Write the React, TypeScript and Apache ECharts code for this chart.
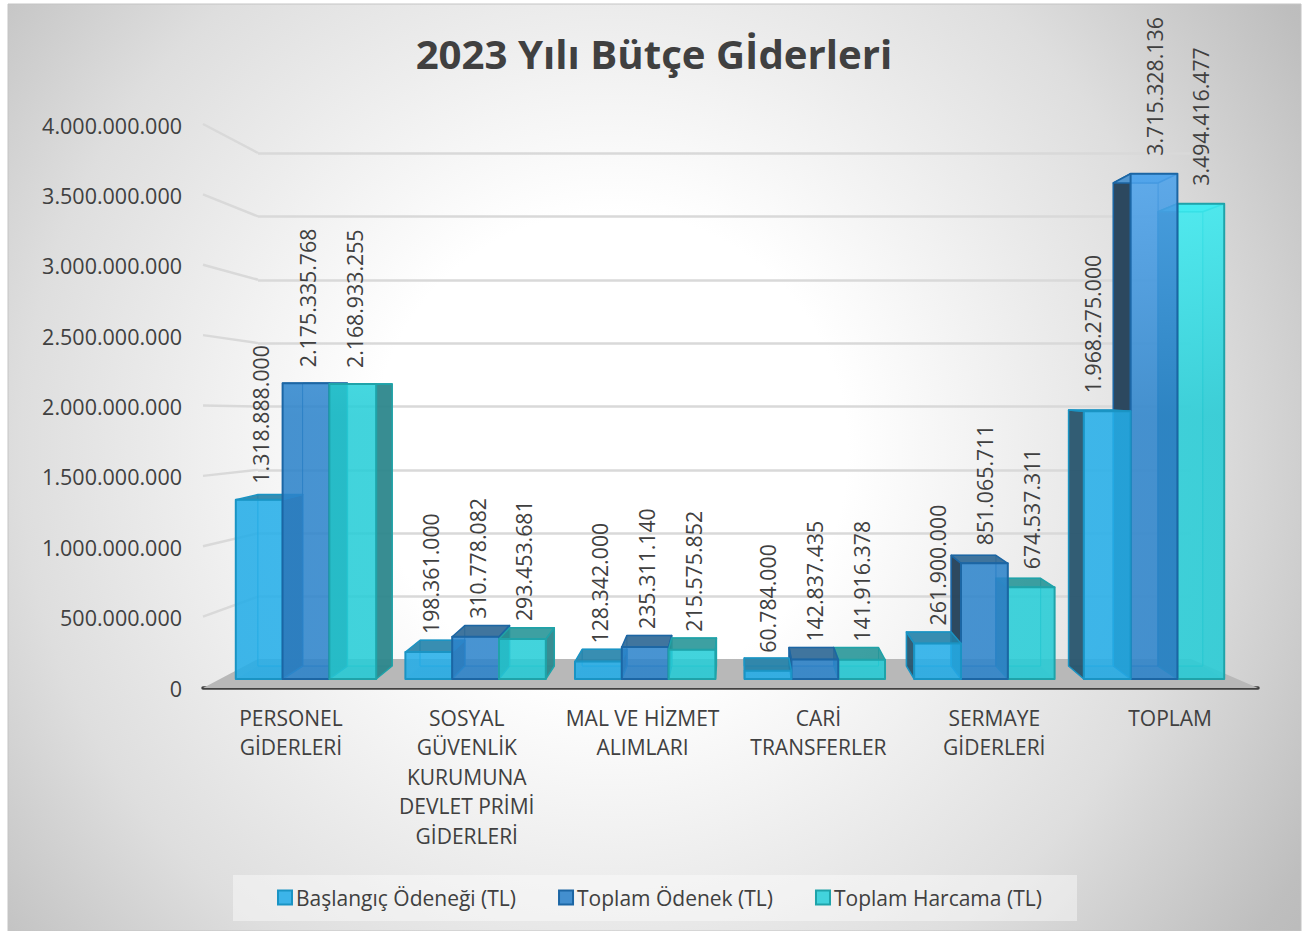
import React, { useEffect, useRef } from "react";
import * as echarts from "echarts";

const categories = [
  "PERSONEL\nGİDERLERİ",
  "SOSYAL\nGÜVENLİK\nKURUMUNA\nDEVLET PRİMİ\nGİDERLERİ",
  "MAL VE HİZMET\nALIMLARI",
  "CARİ\nTRANSFERLER",
  "SERMAYE\nGİDERLERİ",
  "TOPLAM",
];
const baslangic = [1318888000, 198361000, 128342000, 60784000, 261900000, 1968275000];
const toplamOdenek = [2175335768, 310778082, 235311140, 142837435, 851065711, 3715328136];
const toplamHarcama = [2168933255, 293453681, 215575852, 141916378, 674537311, 3494416477];
const seriesNames = ["Başlangıç Ödeneği (TL)", "Toplam Ödenek (TL)", "Toplam Harcama (TL)"];
const axisTicks = [500000000, 1000000000, 1500000000, 2000000000, 2500000000, 3000000000, 3500000000, 4000000000];
const titleText = "2023 Yılı Bütçe Gİderleri";

const FONT = "'Open Sans', sans-serif";
const TEXT = "#404040";
const W = 1308;
const H = 931;
// perspective model of the 3D bars
const VP = { x: 738, y: 384 };
const DEPTH = 0.044;
const BAR_FRAC = 0.276;
const AXIS_MAX = 4000000000;
const WALL = { left: 258, right: 1191, top: 153, bottom: 660 };
const LABEL_GRID = { left: 203, right: 1258, top: 125, bottom: 688 };
const BAR_GRID = { left: 221.2, right: 1238.8, top: 135, bottom: 679 };

type Palette = { light: string; front: string; stroke: string; top: string; topLight: string; sideOut: string };
const palettes: Palette[] = [
  { light: "rgba(45,192,247,0.87)", front: "rgba(36,174,233,0.87)", stroke: "#1A94C4", top: "rgba(34,130,170,0.9)", topLight: "rgba(60,190,245,0.7)", sideOut: "rgba(40,85,110,0.95)" },
  { light: "rgba(77,163,236,0.87)", front: "rgba(45,132,203,0.87)", stroke: "#1C66A4", top: "rgba(48,105,150,0.92)", topLight: "rgba(92,170,235,0.8)", sideOut: "rgba(36,66,90,0.96)" },
  { light: "rgba(63,240,245,0.87)", front: "rgba(38,205,215,0.87)", stroke: "#1FA3A9", top: "rgba(40,150,152,0.9)", topLight: "rgba(80,240,245,0.75)", sideOut: "rgba(45,135,140,0.95)" },
];
const legendColors = ["#3CB4E9", "#438FCF", "#42D3DC"];
const legendBorders = ["#1A94C4", "#1C66A4", "#1FA3A9"];

const dotted = (v: number) => String(Math.round(v)).replace(/\B(?=(\d{3})+(?!\d))/g, ".");
const back = (x: number, y: number): number[] => [x + (VP.x - x) * DEPTH, y + (VP.y - y) * DEPTH];

function barRenderer(seriesIdx: number) {
  const pal = palettes[seriesIdx];
  return (_params: any, api: any) => {
    const cat = api.value(0);
    const value = api.value(1);
    const center = api.coord([cat, value]);
    const base = api.coord([cat, 0]);
    const band = api.size([1, 0])[0];
    const bw = band * BAR_FRAC;
    const x0 = center[0] + (seriesIdx - 1.5) * bw;
    const x1 = x0 + bw;
    const yT = center[1];
    const yB = base[1];
    const leftOfVp = x0 < VP.x;
    const order = (leftOfVp ? seriesIdx : 2 - seriesIdx) * 10 + 10;

    const fTL = [x0, yT], fTR = [x1, yT], fBR = [x1, yB], fBL = [x0, yB];
    const bTL = back(x0, yT), bTR = back(x1, yT), bBR = back(x1, yB), bBL = back(x0, yB);

    const grad = new echarts.graphic.LinearGradient(0, 172, 0, 679, [
      { offset: 0, color: pal.light },
      { offset: 0.48, color: pal.front },
      { offset: 1, color: pal.front },
    ], true);

    const poly = (points: number[][], fill: any, stroke: any, lw: number, z2: number) => ({
      type: "polygon",
      z2,
      silent: true,
      shape: { points },
      style: { fill, stroke, lineWidth: lw, lineJoin: "round" },
    });

    const outer = leftOfVp ? [fTR, bTR, bBR, fBR] : [fTL, bTL, bBL, fBL];
    const inner = leftOfVp ? [fTL, bTL, bBL, fBL] : [fTR, bTR, bBR, fBR];
    const topIsSeen = yT > VP.y + 4;

    const shifts: Record<string, number> = { "5-0": -15 };
    const dx = (shifts[cat + "-" + seriesIdx] || 0) + (leftOfVp ? 1.5 : 0);
    const gap = cat === 0 ? 16 : 18;

    const children: any[] = [
      poly([bTL, bTR, bBR, bBL], "rgba(255,255,255,0)", pal.stroke, 1, order),
      poly(inner, "rgba(0,0,0,0.04)", "none", 0, order + 1),
      poly([fBL, fBR, bBR, bBL], "rgba(0,60,110,0.12)", "none", 0, order + 1),
      poly(outer, pal.sideOut, pal.stroke, 1.5, order + 2),
      poly([fTL, fTR, bTR, bTL], topIsSeen ? pal.top : pal.topLight, pal.stroke, 1.5, order + 3),
      poly([fTL, fTR, fBR, fBL], grad, pal.stroke, 2, order + 4),
      {
        type: "text",
        z2: 200,
        silent: true,
        x: (x0 + x1) / 2 + dx,
        y: yT - gap,
        rotation: Math.PI / 2,
        style: {
          text: dotted(value),
          fill: TEXT,
          font: `21.3px ${FONT}`,
          align: "left",
          verticalAlign: "middle",
        },
      },
    ];
    return { type: "group", children };
  };
}

const wingRenderer = (_p: any, api: any) => {
  const v = api.value(1);
  const y = api.coord([0, v])[1];
  const wallY = WALL.bottom - (v / AXIS_MAX) * (WALL.bottom - WALL.top);
  return {
    type: "line",
    silent: true,
    shape: { x1: LABEL_GRID.left, y1: y - 1, x2: WALL.left, y2: wallY },
    style: { stroke: "#D9D9D9", lineWidth: 2.5 },
  };
};

function gridOf(g: { left: number; right: number; top: number; bottom: number }) {
  return { left: g.left, width: g.right - g.left, top: g.top, height: g.bottom - g.top, containLabel: false };
}

export default function App() {
  const ref = useRef<HTMLDivElement>(null);
  useEffect(() => {
    if (!ref.current) return;
    const chart = echarts.init(ref.current, undefined, { renderer: "svg" });
    const seriesValues = [baslangic, toplamOdenek, toplamHarcama];
    chart.setOption({
      animation: false,
      backgroundColor: "#ffffff",
      title: {
        text: titleText,
        left: 654,
        textAlign: "center",
        top: 33,
        padding: 0,
        textStyle: { fontFamily: FONT, fontSize: 40.2, fontWeight: "bold", color: TEXT },
      },
      legend: {
        left: 277,
        top: 887,
        padding: 0,
        itemGap: 42,
        itemWidth: 14,
        itemHeight: 14,
        icon: "rect",
        data: seriesNames,
        textStyle: { fontFamily: FONT, fontSize: 21, color: TEXT, padding: [0, 0, 0, -1] },
      },
      grid: [gridOf(LABEL_GRID), gridOf(WALL), gridOf(BAR_GRID)],
      xAxis: [
        {
          type: "category",
          gridIndex: 0,
          data: categories,
          axisTick: { show: false },
          axisLine: { lineStyle: { color: "#404040", width: 3.5, cap: "round" } },
          axisLabel: {
            interval: 0,
            margin: 15,
            color: TEXT,
            fontFamily: FONT,
            fontSize: 21,
            lineHeight: 29.5,
            align: "center",
            verticalAlign: "top",
          },
        },
        { type: "category", gridIndex: 1, data: categories, show: false },
        { type: "category", gridIndex: 2, data: categories, show: false },
      ],
      yAxis: [
        {
          type: "value",
          gridIndex: 0,
          min: 0,
          max: AXIS_MAX,
          interval: 500000000,
          axisLine: { show: false },
          axisTick: { show: false },
          splitLine: { show: false },
          axisLabel: {
            margin: 21,
            color: TEXT,
            fontFamily: FONT,
            fontSize: 21.5,
            formatter: (v: number) => dotted(v),
          },
        },
        {
          type: "value",
          gridIndex: 1,
          min: 0,
          max: AXIS_MAX,
          interval: 500000000,
          axisLine: { show: false },
          axisTick: { show: false },
          axisLabel: { show: false },
          splitLine: { show: true, lineStyle: { color: "#D9D9D9", width: 2.5 } },
        },
        { type: "value", gridIndex: 2, min: 0, max: AXIS_MAX, show: false },
      ],
      graphic: [
        {
          type: "rect",
          z: -10,
          silent: true,
          shape: { x: 8, y: 4, width: 1293, height: H - 4 },
          style: {
            fill: new echarts.graphic.RadialGradient(610, 450, 950, [
              { offset: 0, color: "#ffffff" },
              { offset: 0.25, color: "#ffffff" },
              { offset: 0.45, color: "#ededed" },
              { offset: 0.62, color: "#dedede" },
              { offset: 0.85, color: "#bebebe" },
              { offset: 1, color: "#b4b4b4" },
            ], true),
            stroke: "#c4c4c4",
            lineWidth: 1,
          },
        },
        {
          type: "polygon",
          z: 1,
          silent: true,
          shape: {
            points: [
              [LABEL_GRID.left, LABEL_GRID.bottom],
              [LABEL_GRID.right, LABEL_GRID.bottom],
              [WALL.right, 659],
              [WALL.left, 659],
            ],
          },
          style: { fill: "#b8b8b8" },
        },
        {
          type: "rect",
          z: 1,
          silent: true,
          shape: { x: 233, y: 875, width: 844, height: 46 },
          style: { fill: "rgba(255,255,255,0.42)" },
        },
      ],
      series: [
        {
          type: "custom",
          name: "wings",
          xAxisIndex: 0,
          yAxisIndex: 0,
          z: 0,
          silent: true,
          data: axisTicks.map((v) => [0, v]),
          renderItem: wingRenderer,
        },
        ...seriesNames.map((name, i) => ({
          type: "custom",
          name,
          xAxisIndex: 2,
          yAxisIndex: 2,
          z: 3,
          silent: true,
          itemStyle: { color: legendColors[i], borderColor: legendBorders[i], borderWidth: 1.5 },
          data: seriesValues[i].map((v, c) => [c, v]),
          renderItem: barRenderer(i),
        })),
      ],
    });
    return () => chart.dispose();
  }, []);
  return <div ref={ref} style={{ position: "absolute", left: 0, top: 0, width: W, height: H }} />;
}
